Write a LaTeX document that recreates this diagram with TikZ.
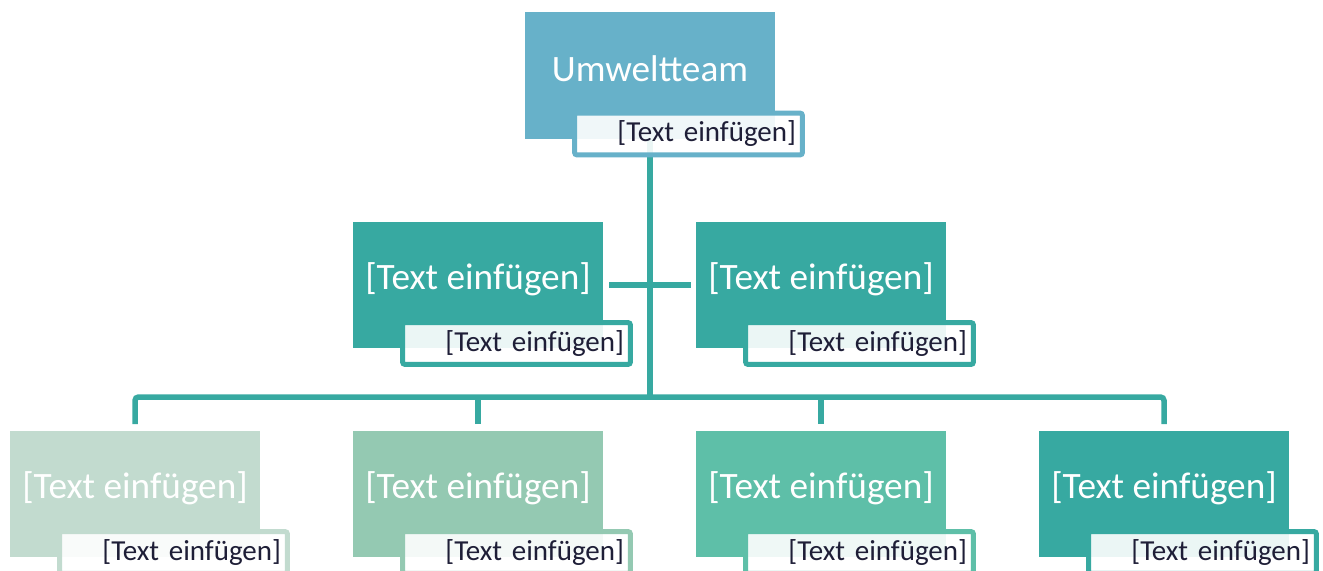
\documentclass[tikz,border=0pt]{standalone}
\usepackage{fontspec}
\setmainfont{Carlito}
\usetikzlibrary{backgrounds}
\definecolor{headblue}{RGB}{103,177,201}
\definecolor{teamteal}{RGB}{55,169,161}
\definecolor{leafA}{RGB}{194,219,207}
\definecolor{leafB}{RGB}{148,201,178}
\definecolor{leafC}{RGB}{94,191,168}
\definecolor{leafD}{RGB}{55,169,161}
\definecolor{subink}{RGB}{30,30,55}
\tikzset{
  mainbox/.style={fill=#1, minimum width=5cm, minimum height=2.54cm, inner sep=0pt},
  maintext/.style={text=white, font=\fontsize{21.2}{25}\selectfont, inner sep=0pt},
  subbox/.style={draw=#1, line width=0.1cm, rounded corners=1.5pt, fill=white,
    fill opacity=0.9, text opacity=1, minimum width=4.56cm, minimum height=0.84cm,
    text width=4.3cm, inner xsep=0.13cm, inner ysep=0pt, align=right,
    text=subink, font=\fontsize{16.5}{19}\selectfont},
  link/.style={draw=teamteal, line width=0.11cm, rounded corners=2pt},
}
\begin{document}
\begin{tikzpicture}[x=0.02cm, y=-0.02cm]
\useasboundingbox (0,0) rectangle (1323,571);
\clip (0,0) rectangle (1323,571);
% head
\node[mainbox=headblue] (head) at (650,75.5) {};
\node[maintext] at ([shift={(0,-7)}]head.center) {Umweltteam};
\node[subbox=headblue] (headsub) at ([shift={(38.5,58.5)}]head.center) {[Text einfügen]};
% team
\node[mainbox=teamteal] (t1) at (478,285) {};
\node[maintext] at ([shift={(0,-6)}]t1.center) {[Text einfügen]};
\node[subbox=teamteal] (ts1) at ([shift={(38.5,58.5)}]t1.center) {[Text einfügen]};
\node[mainbox=teamteal] (t2) at (821,285) {};
\node[maintext] at ([shift={(0,-6)}]t2.center) {[Text einfügen]};
\node[subbox=teamteal] (ts2) at ([shift={(38.5,58.5)}]t2.center) {[Text einfügen]};
% members
\foreach \i/\cx/\col in {1/135/leafA,2/478/leafB,3/821/leafC,4/1164/leafD}{
  \node[mainbox=\col] (b\i) at (\cx,494) {};
  \node[maintext] at ([shift={(0,-6)}]b\i.center) {[Text einfügen]};
  \node[subbox=\col] (bs\i) at ([shift={(38.5,58.5)}]b\i.center) {[Text einfügen]};
}
\coordinate (bus) at (650,397);
\begin{scope}[on background layer]
\draw[link] (head.south) -- (bus);
\draw[link, shorten <=0.12cm, shorten >=0.1cm] (t1.east) -- (t2.west);
\draw[link] ([shift={(0,-6)}]b1.north) |- (bus) -| ([shift={(0,-6)}]b4.north);
\draw[link] ([shift={(0,-6)}]b2.north) -- (b2.north |- bus);
\draw[link] ([shift={(0,-6)}]b3.north) -- (b3.north |- bus);
\end{scope}
\end{tikzpicture}
\end{document}
